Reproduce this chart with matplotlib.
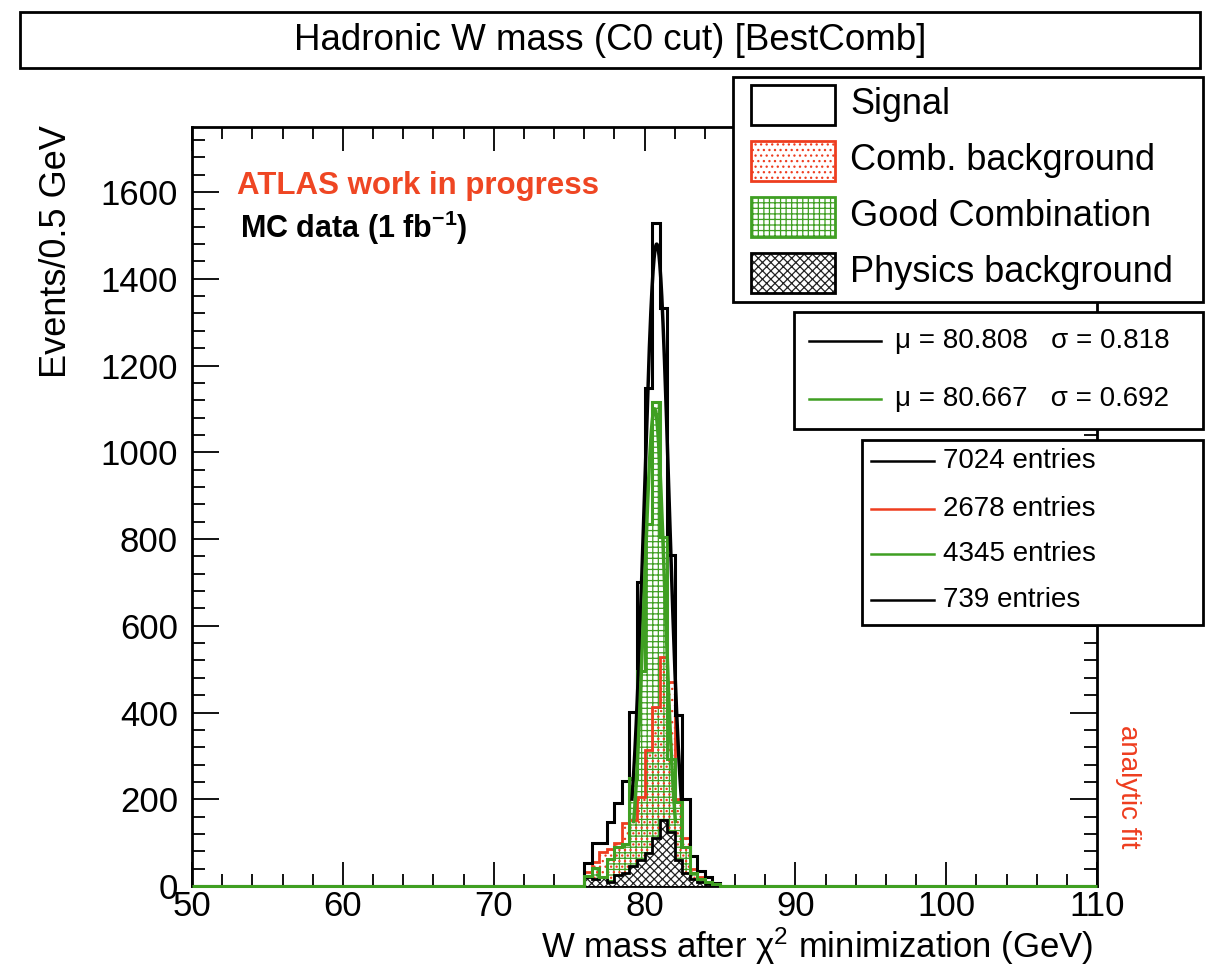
import numpy as np
import matplotlib.pyplot as plt
from matplotlib.patches import Rectangle
from matplotlib.lines import Line2D
from matplotlib.ticker import MultipleLocator

plt.rcParams['font.family'] = ['Liberation Sans', 'DejaVu Sans']
plt.rcParams['mathtext.fontset'] = 'custom'
plt.rcParams['mathtext.rm'] = 'Liberation Sans'
plt.rcParams['mathtext.it'] = 'Liberation Sans:italic'
plt.rcParams['mathtext.bf'] = 'Liberation Sans:bold'
plt.rcParams['hatch.linewidth'] = 0.9

# 0.5 GeV bins from 50 to 110 GeV, only 76 - 85 GeV is filled
x_min, x_max, bin_width = 50.0, 110.0, 0.5
first_bin = 76.0
signal = [54, 98, 100, 147, 191, 241, 402, 700, 1149, 1529, 1333, 763, 394, 200, 70, 35, 20, 8]
comb_bkg = [32, 56, 79, 85, 100, 145, 152, 205, 314, 413, 528, 471, 200, 110, 40, 20, 10, 3]
good_comb = [22, 42, 21, 62, 91, 96, 250, 495, 835, 1116, 805, 292, 194, 90, 30, 15, 10, 5]
phys_bkg = [20, 15, 20, 10, 25, 30, 45, 60, 75, 110, 152, 125, 60, 30, 15, 10, 5, 0]

fit_signal = (80.808, 0.818, 1480)
fit_good = (80.667, 0.692, 1100)

entries = ['7024 entries', '2678 entries', '4345 entries', '739 entries']
legend_names = ['Signal', 'Comb. background', 'Good Combination', 'Physics background']

RED = '#ee3d1f'
GREEN = '#3f9f22'
ORANGE = '#ef4623'

W, H = 1205, 965


def fx(x):
    return x / W


def fy(y):
    return 1 - y / H


def full_hist(vals):
    h = np.zeros(int(round((x_max - x_min) / bin_width)))
    i0 = int(round((first_bin - x_min) / bin_width))
    h[i0:i0 + len(vals)] = vals
    return h


def gauss_curve(mu, sigma, amp):
    x = np.linspace(mu - 2 * sigma, mu + 2 * sigma, 200)
    return x, amp * np.exp(-0.5 * ((x - mu) / sigma) ** 2)


edges = np.arange(x_min, x_max + bin_width / 2, bin_width)

fig = plt.figure(figsize=(W / 100, H / 100), dpi=100)
ax = fig.add_axes([fx(192), fy(886), fx(1097) - fx(192), fy(127) - fy(886)])

h_sig = full_hist(signal)
h_comb = full_hist(comb_bkg)
h_good = full_hist(good_comb)
h_phys = full_hist(phys_bkg)

ax.stairs(h_sig, edges, fill=True, facecolor='white', edgecolor='none', zorder=1)
ax.stairs(h_good, edges, fill=True, facecolor='white', edgecolor=GREEN, hatch='+++', linewidth=0, zorder=2)
ax.stairs(h_comb, edges, fill=True, facecolor='none', edgecolor=RED, hatch='...', linewidth=0, zorder=3)
ax.stairs(h_phys, edges, fill=True, facecolor='white', edgecolor='#222222', hatch='xxxx', linewidth=0, zorder=4)
ax.stairs(h_comb, edges, color=RED, linewidth=2.0, zorder=5)
ax.stairs(h_phys, edges, color='black', linewidth=2.0, zorder=6)
ax.stairs(h_sig, edges, color='black', linewidth=2.2, zorder=6)
ax.stairs(h_good, edges, color=GREEN, linewidth=2.2, zorder=6.5, clip_on=False)

xs, ys = gauss_curve(*fit_signal)
ax.plot(xs, ys, color='black', linewidth=2.5, zorder=7)
xg, yg = gauss_curve(*fit_good)
ax.plot(xg, yg, color=GREEN, linewidth=2.5, zorder=7)

ax.set_xlim(x_min, x_max)
ax.set_ylim(0, 1750)
ax.set_xticks(np.arange(50, 111, 10))
ax.set_yticks(np.arange(0, 1601, 200))
ax.xaxis.set_minor_locator(MultipleLocator(2))
ax.yaxis.set_minor_locator(MultipleLocator(40))
ax.tick_params(which='both', direction='in', top=True, right=True, width=1.3, labelsize=25)
ax.tick_params(axis='x', which='major', length=17, pad=3)
ax.tick_params(axis='x', which='minor', length=8.5)
ax.tick_params(axis='y', which='major', length=19.5, pad=10)
ax.tick_params(axis='y', which='minor', length=9.5)
for s in ax.spines.values():
    s.set_linewidth(2)

fig.text(fx(1093), fy(958), 'W mass after χ$^{2}$ minimization (GeV)', ha='right', va='baseline', fontsize=25)
fig.text(fx(57), fy(125), 'Events/0.5 GeV', rotation=90, ha='center', va='top', fontsize=26)

# title box
fig.add_artist(Rectangle((fx(20), fy(68)), fx(1200) - fx(20), fy(12) - fy(68), transform=fig.transFigure,
                         facecolor='white', edgecolor='black', linewidth=2, zorder=10))
fig.text(fx(610), fy(40), 'Hadronic W mass (C0 cut) [BestComb]', ha='center', va='center', fontsize=26.5, zorder=11)

fig.text(fx(237), fy(186), 'ATLAS work in progress', color=ORANGE, fontweight='bold', fontsize=22.5,
         ha='left', va='center')
fig.text(fx(240), fy(228), r'MC data (1 fb$^{\mathbf{-1}}$)', color='black', fontweight='bold', fontsize=22,
         ha='left', va='center')
fig.text(fx(1128), fy(787), 'analytic fit', color=RED, rotation=-90, ha='center', va='center', fontsize=20)

# legend 1: histograms
fig.add_artist(Rectangle((fx(733), fy(302)), fx(1203) - fx(733), fy(77) - fy(302), transform=fig.transFigure,
                         facecolor='white', edgecolor='black', linewidth=2, zorder=10))
patch_styles = [('white', 'black', None), ('white', RED, '...'), ('white', GREEN, '+++'), ('white', '#222222', 'xxxx')]
row_y = [105, 161, 217, 273]
for name, (fc, ec, hatch), y in zip(legend_names, patch_styles, row_y):
    border = 'black' if ec in ('black', '#222222') else ec
    fig.add_artist(Rectangle((fx(751), fy(y + 20)), fx(835) - fx(751), fy(y - 20) - fy(y + 20),
                             transform=fig.transFigure, facecolor=fc, edgecolor=ec, hatch=hatch,
                             linewidth=0, zorder=11))
    fig.add_artist(Rectangle((fx(751), fy(y + 20)), fx(835) - fx(751), fy(y - 20) - fy(y + 20),
                             transform=fig.transFigure, facecolor='none', edgecolor=border,
                             linewidth=2, zorder=12))
    fig.text(fx(850), fy(y), name, ha='left', va='center', fontsize=26, zorder=12)

# legend 2: fit results
fig.add_artist(Rectangle((fx(794), fy(429)), fx(1203) - fx(794), fy(312) - fy(429), transform=fig.transFigure,
                         facecolor='white', edgecolor='black', linewidth=2, zorder=10))
fit_labels = ['μ = %.3f   σ = %.3f' % fit_signal[:2], 'μ = %.3f   σ = %.3f' % fit_good[:2]]
for lab, col, y in zip(fit_labels, ['black', GREEN], [341, 399]):
    fig.add_artist(Line2D([fx(809), fx(881)], [fy(y), fy(y)], transform=fig.transFigure, color=col,
                          linewidth=1.8, zorder=11))
    fig.text(fx(895), fy(y), lab, ha='left', va='center', fontsize=20, zorder=11)

# legend 3: entries
fig.add_artist(Rectangle((fx(862), fy(625)), fx(1203) - fx(862), fy(440) - fy(625), transform=fig.transFigure,
                         facecolor='white', edgecolor='black', linewidth=2, zorder=10))
for lab, col, y in zip(entries, ['black', RED, GREEN, 'black'], [461, 509, 554, 600]):
    fig.add_artist(Line2D([fx(871), fx(934)], [fy(y), fy(y)], transform=fig.transFigure, color=col,
                          linewidth=1.8, zorder=11))
    fig.text(fx(943), fy(y), lab, ha='left', va='center', fontsize=20, zorder=11)

fig.savefig('out.png', dpi=100)
